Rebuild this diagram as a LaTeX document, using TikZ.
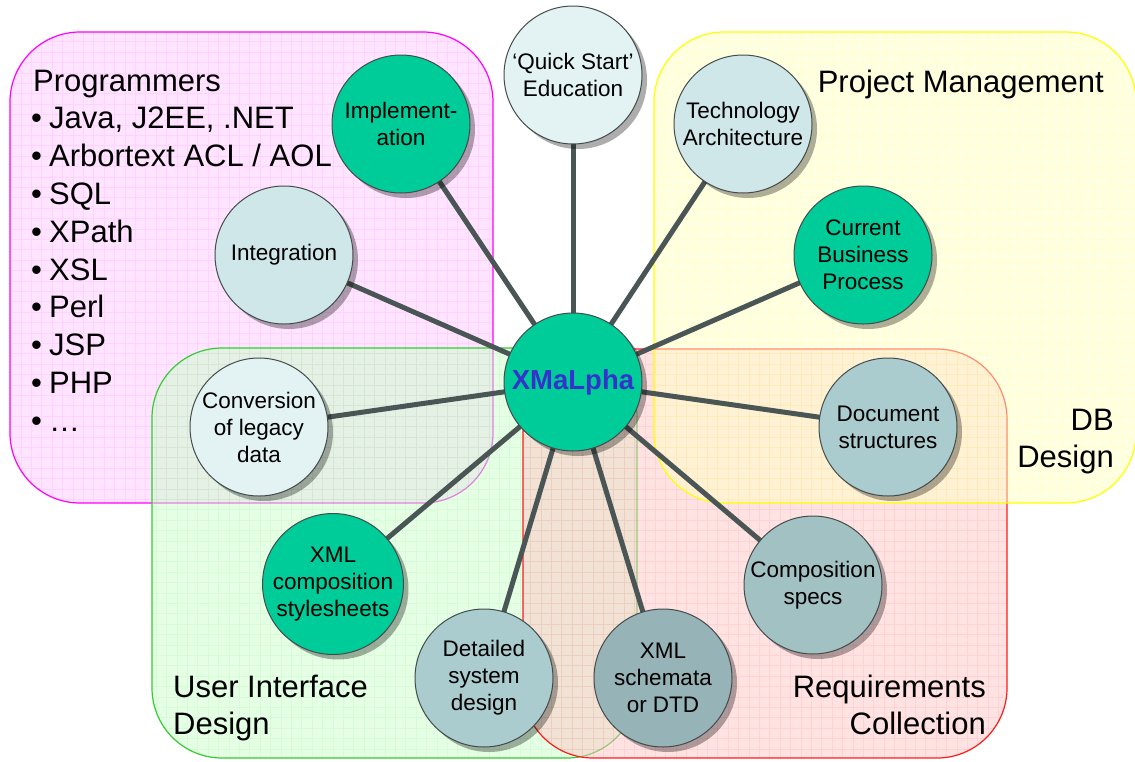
\documentclass[tikz,border=0pt]{standalone}
\usepackage{fontspec}
\setmainfont{Liberation Sans}
\usetikzlibrary{shadows}

\definecolor{hubgreen}{HTML}{00CC99}
\definecolor{hubblue}{HTML}{3333CC}
\definecolor{palecyan}{HTML}{E3F3F3}
\definecolor{icecyan}{HTML}{CFE7E9}
\definecolor{steelA}{HTML}{AACCCF}
\definecolor{steelB}{HTML}{A2C1C3}
\definecolor{steelC}{HTML}{96B4B7}
\definecolor{rimgray}{HTML}{434B4B}
\definecolor{spokegray}{HTML}{4A5656}
\definecolor{zpinkfill}{HTML}{FFCAFF}
\definecolor{zgreenfill}{HTML}{CAFFCA}
\definecolor{zredfill}{HTML}{FFC6C6}
\definecolor{zyellowfill}{HTML}{FFFFC4}
\definecolor{zpinkline}{HTML}{FF00FF}
\definecolor{zgreenline}{HTML}{33CC33}
\definecolor{zredline}{HTML}{FF1A1A}
\definecolor{zyellowline}{HTML}{FFFF00}

\pgfdeclarelayer{zones}
\pgfdeclarelayer{spokes}
\pgfsetlayers{zones,spokes,main}

% a translucent rounded zone with a fine grid: fill, line colour, corners
\newcommand\gridzone[6]{%
  \fill[#1, fill opacity=0.5, rounded corners=70pt] (#3,#4) rectangle (#5,#6);
  \begin{scope}
    \clip[rounded corners=70pt] (#3,#4) rectangle (#5,#6);
    \draw[#2, opacity=0.08, line width=0.5pt, step=10.4pt] (#3,#4) grid (#5,#6);
  \end{scope}
  \draw[#2, line width=1.2pt, rounded corners=70pt] (#3,#4) rectangle (#5,#6);
}

\begin{document}
\begin{tikzpicture}[x=1pt, y=-1pt,
  bubble/.style={circle, draw=rimgray, line width=1pt, minimum size=138pt,
    inner sep=0pt, align=center, text=black,
    font=\fontsize{22.5}{27}\selectfont,
    drop shadow={shadow xshift=5pt, shadow yshift=-5pt, fill=black, opacity=0.32}},
  spoke/.style={draw=spokegray, line width=5pt},
  zonelabel/.style={inner sep=0pt, font=\fontsize{31}{37}\selectfont},
  listitem/.style={inner sep=0pt, anchor=base west, font=\fontsize{31}{37}\selectfont}]

\useasboundingbox (0,0) rectangle (1135,761);

% overlapping working areas
\begin{pgfonlayer}{zones}
  \gridzone{zpinkfill}{zpinkline}{10}{32}{493}{503}
  \gridzone{zgreenfill}{zgreenline}{152}{348}{637}{758}
  \gridzone{zredfill}{zredline}{523}{349}{1007}{758}
  \gridzone{zyellowfill}{zyellowline}{654}{32}{1136}{503}
\end{pgfonlayer}

% zone captions
\node[zonelabel, anchor=base west] (progtitle) at (33,91) {Programmers};
\foreach \i/\s in {1/{Java, J2EE, .NET}, 2/{Arbortext ACL / AOL}, 3/{SQL},
                   4/{XPath}, 5/{XSL}, 6/{Perl}, 7/{JSP}, 8/{PHP}, 9/{…}}
  \node[listitem] (prog\i) at (31,91+37.8*\i) {\makebox[18pt][l]{•}\s};

\node[zonelabel, anchor=base east] (pmtitle) at (1104,92) {Project Management};
\node[zonelabel, anchor=base east] (dbtitle1) at (1114,430) {DB};
\node[zonelabel, anchor=base east] (dbtitle2) at (1114,467) {Design};
\node[zonelabel, anchor=base east] (rctitle1) at (986,697) {Requirements};
\node[zonelabel, anchor=base east] (rctitle2) at (986,734) {Collection};
\node[zonelabel, anchor=base west] (uititle1) at (173,697) {User Interface};
\node[zonelabel, anchor=base west] (uititle2) at (173,734) {Design};

% hub and satellites
\node[bubble, fill=hubgreen, text=hubblue,
      font=\bfseries\fontsize{27.5}{33}\selectfont] (hub) at (573,382) {XMaLpha};
\node[bubble, fill=palecyan] (quick)  at (573,75)  {‘Quick Start’\\Education};
\node[bubble, fill=hubgreen] (impl)   at (401,124) {Implement-\\ation};
\node[bubble, fill=icecyan]  (integ)  at (284,255) {Integration};
\node[bubble, fill=icecyan]  (tech)   at (743,124) {Technology\\Architecture};
\node[bubble, fill=hubgreen] (cbp)    at (863,255) {Current\\Business\\Process};
\node[bubble, fill=palecyan] (conv)   at (259,427) {Conversion\\of legacy\\data};
\node[bubble, fill=steelA]   (docs)   at (888,427) {Document\\structures};
\node[bubble, fill=hubgreen] (xmlcs)  at (333,584) {XML\\composition\\stylesheets};
\node[bubble, fill=steelB]   (cspec)  at (813,585) {Composition\\specs};
\node[bubble, fill=steelA]   (detail) at (484,678) {Detailed\\system\\design};
\node[bubble, fill=steelC]   (schema) at (663,678) {XML\\schemata\\or DTD};

% spokes from the hub
\begin{pgfonlayer}{spokes}
  \foreach \t in {quick,impl,integ,tech,cbp,conv,docs,xmlcs,cspec,detail,schema}
    \draw[spoke] (hub.center) -- (\t.center);
\end{pgfonlayer}
\end{tikzpicture}
\end{document}
